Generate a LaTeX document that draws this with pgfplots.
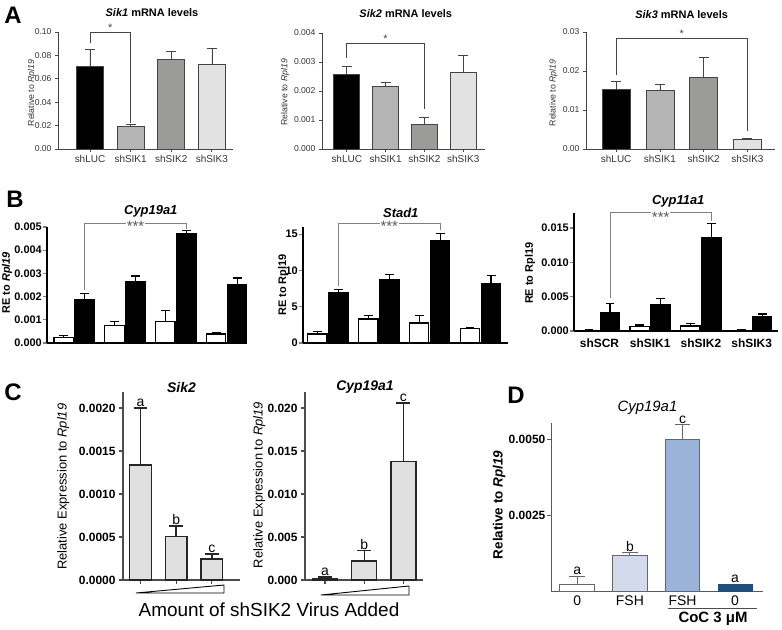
\documentclass[border=0pt]{standalone}
\usepackage{fontspec}
\setmainfont{Liberation Sans}
\usepackage{pgfplots}
\pgfplotsset{compat=1.18}
\newcommand{\fs}[1]{\fontsize{#1}{#1}\selectfont}

\definecolor{agray}{HTML}{444444}
\definecolor{sikA}{HTML}{B4B4B4}
\definecolor{sikB}{HTML}{9B9B99}
\definecolor{sikC}{HTML}{E2E2E2}
\definecolor{cgray}{HTML}{E0E0E0}
\definecolor{dlight}{HTML}{D2DAEB}
\definecolor{dmid}{HTML}{9CB3D9}
\definecolor{ddark}{HTML}{1F4E79}

\tikzset{
  astar/.style={anchor=south, inner sep=0.5bp, font=\fs{11}, text=agray},
  bstar/.style={fill=white, inner xsep=1bp, inner ysep=0pt, font=\fs{15}, text=black!65, yshift=-3bp},
  letter/.style={anchor=south, inner sep=1bp, font=\fs{14}},
}

\pgfplotsset{
  gp/.style={scale only axis, clip=false, anchor=south west,
    axis x line*=bottom, axis y line*=left, axis line style={-},
    tick align=outside, scaled y ticks=false, ymin=0,
    /pgf/number format/assume math mode=true,
    title style={anchor=center, yshift=-6pt}},
  prec/.style={yticklabel style={/pgf/number format/fixed, /pgf/number format/fixed zerofill,
    /pgf/number format/precision=#1}},
  gbar/.style={ybar, bar shift=0pt, bar width=#1,
    error bars/y dir=plus, error bars/y explicit},
  % panel A
  apanel/.style={xtick={0,1,2,3}, xticklabels={shLUC,shSIK1,shSIK2,shSIK3},
    axis line style={-, draw=agray, line width=0.8}, tick style={draw=agray, line width=0.8},
    major tick length=3bp, tick label style={font=\fs{8.6}, text=black!80},
    xticklabel style={font=\fs{10}},
    title style={font=\bfseries\fs{11}},
    ylabel style={font=\fs{8.8}, anchor=center, text=black!80}},
  abar/.style={gbar=#1, draw=agray, line width=0.7,
    error bars/error bar style={agray, line width=0.7},
    error bars/error mark options={rotate=90, mark size=5, agray, line width=0.7}},
  % panel B
  bpanel/.style={axis line style={-, line width=1.3}, tick style={line width=1.3},
    major tick length=4bp, tick label style={font=\bfseries\fs{11}},
    yticklabel style={inner xsep=1bp},
    title style={font=\bfseries\itshape\fs{13}},
    ylabel style={font=\bfseries\fs{11}, anchor=center}},
  wbar/.style={gbar=0.38, fill=white, draw=black, line width=1.2,
    error bars/error bar style={black, line width=1.2},
    error bars/error mark options={rotate=90, mark size=4.5, black, line width=1.2}},
  kbar/.style={wbar, fill=black},
  % panel C
  cpanel/.style={xtick={0,1,2}, xticklabels={,,},
    axis line style={-, draw=black!70, line width=1.2}, tick style={draw=black!70, line width=1.2},
    major tick length=4bp, yticklabel style={font=\bfseries\fs{12}},
    title style={font=\bfseries\itshape\fs{14}},
    ylabel style={font=\fs{13}, anchor=center}},
  cbar/.style={gbar=#1, fill=cgray, draw=black!85, line width=1.4,
    error bars/error bar style={black!85, line width=1.4},
    error bars/error mark options={rotate=90, mark size=7, black!85, line width=1.4}},
  % panel D
  dpanel/.style={xtick={0,1,2,3}, xticklabels={0,FSH,FSH,0},
    axis line style={-, draw=black!65, line width=0.9}, ytick style={draw=black!65, line width=0.9},
    xtick style={draw=none}, major tick length=4bp,
    yticklabel style={font=\bfseries\fs{12}, inner xsep=1.5bp},
    xticklabel style={font=\fs{14}, yshift=3bp},
    title style={font=\itshape\fs{15}},
    ylabel style={font=\bfseries\fs{13.5}, anchor=center}},
  dbar/.style={gbar=0.66, draw=black!60, line width=0.9,
    error bars/error bar style={black!60, line width=1},
    error bars/error mark options={rotate=90, mark size=8, black!60, line width=1}},
}

\begin{document}
\begin{tikzpicture}
\useasboundingbox (0,0) rectangle (782bp,630bp);

% ---------- A: Sik1
\begin{axis}[gp, apanel, at={(58bp,481bp)}, width=175bp, height=117bp,
  xmin=-0.787, xmax=3.52, ymax=0.1, ytick={0,0.02,0.04,0.06,0.08,0.1}, prec=2,
  title={\textit{Sik1} mRNA levels}, title style={at={(axis description cs:0.537,1.162)}},
  ylabel={Relative to \textit{Rpl19}}, ylabel style={at={(axis description cs:-0.149,0.48)}}]
\addplot[abar=0.66, fill=black] coordinates {(0,0.0709) +- (0,0.0143)};
\addplot[abar=0.66, fill=sikA] coordinates {(1,0.0191) +- (0,0.0020)};
\addplot[abar=0.66, fill=sikB] coordinates {(2,0.0767) +- (0,0.0071)};
\addplot[abar=0.66, fill=sikC] coordinates {(3,0.0726) +- (0,0.0134)};
\draw[agray, line width=0.6] (axis cs:0,0.0903) |- (axis cs:1,0.0997) -- (axis cs:1,0.0225);
\node[astar] at (axis cs:0.5,0.0997) {*};
\end{axis}

% ---------- A: Sik2
\begin{axis}[gp, apanel, at={(322bp,481bp)}, width=163bp, height=116bp,
  xmin=-0.637, xmax=3.56, ymax=0.004, ytick={0,0.001,0.002,0.003,0.004}, prec=3,
  title={\textit{Sik2} mRNA levels}, title style={at={(axis description cs:0.514,1.17)}},
  ylabel={Relative to \textit{Rpl19}}, ylabel style={at={(axis description cs:-0.227,0.49)}}]
\addplot[abar=0.67, fill=black] coordinates {(0,0.00257) +- (0,0.00029)};
\addplot[abar=0.67, fill=sikA] coordinates {(1,0.00215) +- (0,0.00016)};
\addplot[abar=0.67, fill=sikB] coordinates {(2,0.00086) +- (0,0.00023)};
\addplot[abar=0.67, fill=sikC] coordinates {(3,0.00264) +- (0,0.00058)};
\draw[agray, line width=0.6] (axis cs:0,0.00315) |- (axis cs:2,0.00366) -- (axis cs:2,0.00137);
\node[astar] at (axis cs:1,0.00366) {*};
\end{axis}

% ---------- A: Sik3
\begin{axis}[gp, apanel, at={(586bp,481bp)}, width=189bp, height=117bp,
  xmin=-0.69, xmax=3.63, ymax=0.03, ytick={0,0.01,0.02,0.03}, prec=2,
  title={\textit{Sik3} mRNA levels}, title style={at={(axis description cs:0.506,1.145)}},
  ylabel={Relative to \textit{Rpl19}}, ylabel style={at={(axis description cs:-0.173,0.48)}}]
\addplot[abar=0.64, fill=black] coordinates {(0,0.01534) +- (0,0.00188)};
\addplot[abar=0.64, fill=sikA] coordinates {(1,0.0150) +- (0,0.0017)};
\addplot[abar=0.64, fill=sikB] coordinates {(2,0.01825) +- (0,0.00515)};
\addplot[abar=0.64, fill=sikC] coordinates {(3,0.0024) +- (0,0.00043)};
\draw[agray, line width=0.6] (axis cs:0,0.0191) |- (axis cs:3,0.0285) -- (axis cs:3,0.0047);
\node[astar] at (axis cs:1.5,0.0285) {*};
\end{axis}

% ---------- B: Cyp19a1
\begin{axis}[gp, bpanel, at={(47bp,287bp)}, width=200bp, height=116bp,
  xmin=-0.535, xmax=3.40, ymax=0.005, xtick=\empty,
  ytick={0,0.001,0.002,0.003,0.004,0.005}, prec=3,
  title={Cyp19a1}, title style={at={(axis description cs:0.519,1.138)}},
  ylabel={RE to \textit{Rpl19}}, ylabel style={at={(axis description cs:-0.2,0.52)}}]
\addplot[wbar] coordinates {(-0.207,0.00024) +- (0,0.00007) (0.793,0.00076) +- (0,0.00017)
  (1.793,0.00094) +- (0,0.00046) (2.793,0.00039) +- (0,0.00007)};
\addplot[kbar] coordinates {(0.207,0.00186) +- (0,0.00028) (1.207,0.00264) +- (0,0.00025)
  (2.207,0.0047) +- (0,0.00016) (3.207,0.0025) +- (0,0.0003)};
\draw[black!50, line width=0.7] (axis cs:0.207,0.00229) |- (axis cs:2.207,0.00514) -- (axis cs:2.207,0.00493);
\node[bstar] at (axis cs:1.207,0.00514) {***};
\end{axis}

% ---------- B: Stad1
\begin{axis}[gp, bpanel, at={(303bp,287bp)}, width=205bp, height=116bp,
  xmin=-0.49, xmax=3.54, ymax=16, xtick=\empty, ytick={0,5,10,15},
  title={Stad1}, title style={at={(axis description cs:0.477,1.122)}},
  ylabel={RE to Rpl19}, ylabel style={at={(axis description cs:-0.096,0.5)}}]
\addplot[wbar] coordinates {(-0.207,1.24) +- (0,0.36) (0.793,3.3) +- (0,0.46)
  (1.793,2.75) +- (0,1.0) (2.793,1.97) +- (0,0.18)};
\addplot[kbar] coordinates {(0.207,6.97) +- (0,0.46) (1.207,8.72) +- (0,0.78)
  (2.207,14.13) +- (0,1.0) (3.207,8.26) +- (0,1.1)};
\draw[black!50, line width=0.7] (axis cs:0.207,7.9) |- (axis cs:2.207,16.5) -- (axis cs:2.207,15.6);
\node[bstar] at (axis cs:1.207,16.5) {***};
\end{axis}

% ---------- B: Cyp11a1
\begin{axis}[gp, bpanel, at={(574bp,299bp)}, width=204bp, height=118bp,
  xmin=-0.503, xmax=3.52, ymax=0.01718,
  xtick={0,1,2,3}, xticklabels={shSCR,shSIK1,shSIK2,shSIK3}, xtick style={draw=none},
  xticklabel style={font=\bfseries\fs{12}},
  ytick={0,0.005,0.01,0.015}, prec=3,
  title={Cyp11a1}, title style={at={(axis description cs:0.511,1.1)}},
  ylabel={RE to Rpl19}, ylabel style={at={(axis description cs:-0.215,0.49)}}]
\addplot[wbar] coordinates {(-0.207,0.0001) +- (0,0.0001) (0.793,0.00063) +- (0,0.00025)
  (1.793,0.00073) +- (0,0.00039) (2.793,0.0001) +- (0,0.0001)};
\addplot[kbar] coordinates {(0.207,0.00273) +- (0,0.00122) (1.207,0.0039) +- (0,0.00078)
  (2.207,0.01364) +- (0,0.002) (3.207,0.0021) +- (0,0.00038)};
\draw[black!50, line width=0.7] (axis cs:0.207,0.00477) |- (axis cs:2.207,0.01734) -- (axis cs:2.207,0.01598);
\node[bstar, yshift=-2bp] at (axis cs:1.207,0.01734) {***};
\end{axis}

% ---------- C: Sik2
\begin{axis}[gp, cpanel, at={(123bp,50bp)}, width=117bp, height=188bp,
  xmin=-0.49, xmax=2.79, ymax=0.002186,
  ytick={0,0.0005,0.001,0.0015,0.002}, prec=4,
  title={Sik2}, title style={at={(axis description cs:0.5,1.026)}},
  ylabel={Relative Expression to \textit{Rpl19}}, ylabel style={at={(axis description cs:-0.51,0.496)}}]
\addplot[cbar=0.61] coordinates {(0,0.001337) +- (0,0.000663) (1,0.000504) +- (0,0.000124)
  (2,0.000244) +- (0,0.000058)};
\node[letter] at (axis cs:0,0.0020) {a};
\node[letter] at (axis cs:1,0.000628) {b};
\node[letter] at (axis cs:2,0.000302) {c};
\end{axis}

% ---------- C: Cyp19a1
\begin{axis}[gp, cpanel, at={(305bp,50bp)}, width=118bp, height=188bp,
  xmin=-0.51, xmax=2.5, ymax=0.02186,
  ytick={0,0.005,0.01,0.015,0.02}, prec=3,
  title={Cyp19a1}, title style={at={(axis description cs:0.508,1.026)}},
  ylabel={Relative Expression to \textit{Rpl19}}, ylabel style={at={(axis description cs:-0.388,0.505)}}]
\addplot[cbar=0.64] coordinates {(0,0.00016) +- (0,0.00019) (1,0.0022) +- (0,0.0012)
  (2,0.01376) +- (0,0.00684)};
\node[letter] at (axis cs:0,0.00035) {a};
\node[letter] at (axis cs:1,0.0034) {b};
\node[letter] at (axis cs:2,0.0206) {c};
\end{axis}

% ---------- D: Cyp19a1 with CoC
\begin{axis}[gp, dpanel, at={(551bp,39bp)}, width=212bp, height=168bp,
  xmin=-0.499, xmax=3.53, ymax=0.00553,
  ytick={0.0025,0.005}, prec=4,
  title={Cyp19a1}, title style={at={(axis description cs:0.455,1.0875)}},
  ylabel={Relative to \textit{Rpl19}}, ylabel style={at={(axis description cs:-0.245,0.512)}}]
\addplot[dbar, fill=white] coordinates {(0,0.00023) +- (0,0.00026)};
\addplot[dbar, fill=dlight] coordinates {(1,0.00117) +- (0,0.00009)};
\addplot[dbar, fill=dmid] coordinates {(2,0.00499) +- (0,0.00048)};
\addplot[ybar, bar shift=0pt, bar width=0.66, fill=ddark, draw=ddark] coordinates {(3,0.00022)};
\node[letter] at (axis cs:0,0.00049) {a};
\node[letter] at (axis cs:1,0.00126) {b};
\node[letter] at (axis cs:2,0.00547) {c};
\node[letter] at (axis cs:3,0.00024) {a};
\end{axis}

% ---------- extra annotations
\draw[black, line width=0.9, fill=white] (136bp,37bp) -- (224bp,37bp) -- (224bp,45bp) -- cycle;
\draw[black, line width=0.9, fill=white] (321bp,35bp) -- (409bp,35bp) -- (409bp,44bp) -- cycle;
\node[font=\fs{19}] at (269bp,20bp) {Amount of shSIK2 Virus Added};
\draw[black!70, line width=0.9] (668bp,22bp) -- (757bp,22bp);
\node[font=\bfseries\fs{15}] at (713bp,11bp) {CoC 3 μM};

\node[font=\bfseries\fs{24}] at (13bp,615bp) {A};
\node[font=\bfseries\fs{24}] at (15bp,431bp) {B};
\node[font=\bfseries\fs{24}] at (13bp,238bp) {C};
\node[font=\bfseries\fs{24}] at (516bp,235bp) {D};
\end{tikzpicture}
\end{document}
